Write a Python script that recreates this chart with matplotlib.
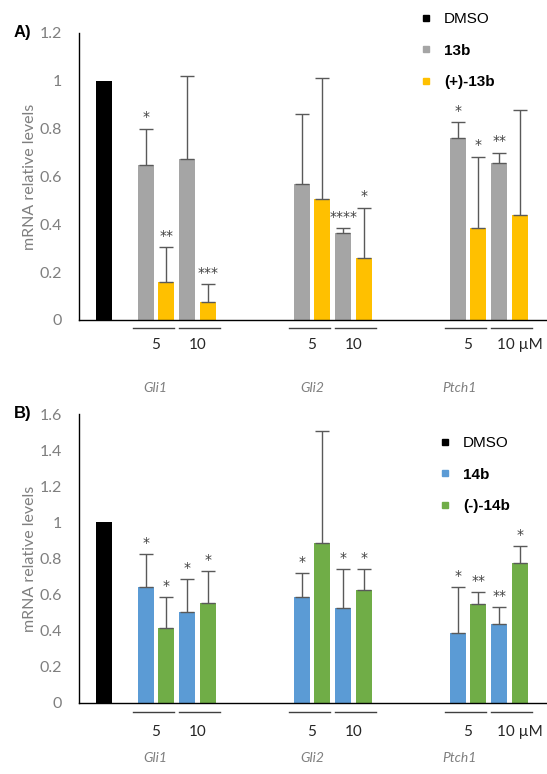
import matplotlib
matplotlib.use("Agg")
import matplotlib.pyplot as plt
from matplotlib.lines import Line2D
from matplotlib.transforms import blended_transform_factory

plt.rcParams['font.family'] = ['Lato', 'DejaVu Sans']

genes = ['Gli1', 'Gli2', 'Ptch1']
doses = ['5', '10']

# order of values: Gli1 5, Gli1 10, Gli2 5, Gli2 10, Ptch1 5, Ptch1 10
dmso_a = 1.0
v_13b = [0.65, 0.674, 0.57, 0.364, 0.76, 0.658]
e_13b = [0.15, 0.345, 0.29, 0.02, 0.067, 0.042]
s_13b = ['*', '', '', '****', '*', '**']
v_p13b = [0.16, 0.075, 0.506, 0.26, 0.385, 0.44]
e_p13b = [0.145, 0.075, 0.504, 0.21, 0.298, 0.439]
s_p13b = ['**', '***', '', '*', '*', '']

dmso_b = 1.0
v_14b = [0.64, 0.504, 0.587, 0.526, 0.388, 0.437]
e_14b = [0.185, 0.183, 0.133, 0.216, 0.254, 0.095]
s_14b = ['*', '*', '*', '*', '*', '**']
v_m14b = [0.415, 0.553, 0.886, 0.626, 0.548, 0.775]
e_m14b = [0.172, 0.178, 0.62, 0.116, 0.067, 0.094]
s_m14b = ['*', '*', '', '*', '**', '*']

GROUP_STEP = 7.5
W = 0.77
ERR = '#595959'
LINE_START = [-0.58, 1.63]
LINE_LEN = 1.93


def draw_panel(ax, dmso, vals1, errs1, stars1, vals2, errs2, stars2,
               c1, c2, labels, ymax, yticks, tag, tag_y, legend_xy,
               line_y, dose_y, gene_y):
    ax.bar(-2, dmso, W, color='black')
    x1, x2 = [], []
    for g in range(len(genes)):
        for d in range(len(doses)):
            x1.append(g * GROUP_STEP + d * 2)
            x2.append(g * GROUP_STEP + d * 2 + 1)
    ekw = dict(ecolor=ERR, elinewidth=1, capsize=5, capthick=1)
    ax.bar(x1, vals1, W, color=c1, yerr=[[0] * len(errs1), errs1], error_kw=ekw)
    ax.bar(x2, vals2, W, color=c2, yerr=[[0] * len(errs2), errs2], error_kw=ekw)
    for xs, vs, es, ss in [(x1, vals1, errs1, stars1), (x2, vals2, errs2, stars2)]:
        for x, v, e, s in zip(xs, vs, es, ss):
            if s:
                ax.annotate(s, (x, v + e), xytext=(0, 3), textcoords='offset points',
                            ha='center', va='bottom', fontsize=10, color='#404040',
                            family='DejaVu Sans')

    ax.set_xlim(-3.2, 19.3)
    ax.set_ylim(0, ymax)
    ax.set_yticks(yticks)
    ax.set_yticklabels([f'{t:g}' for t in yticks])
    ax.set_xticks([])
    ax.tick_params(axis='y', length=0, pad=12, labelsize=11.5, labelcolor='#7f7f7f')
    for s in ['top', 'right']:
        ax.spines[s].set_visible(False)
    for s in ['left', 'bottom']:
        ax.spines[s].set_color('black')
        ax.spines[s].set_linewidth(1)
    ax.set_ylabel('mRNA relative levels', color='#7f7f7f', fontsize=11.5)
    ax.yaxis.set_label_coords(-0.09, 0.5)

    tr = blended_transform_factory(ax.transData, ax.transAxes)
    for g, gene in enumerate(genes):
        base = g * GROUP_STEP
        for d, dose in enumerate(doses):
            x0 = base + LINE_START[d]
            ax.plot([x0, x0 + LINE_LEN], [line_y, line_y],
                    color='#404040', lw=1, transform=tr, clip_on=False)
            if g == len(genes) - 1 and d == len(doses) - 1:
                ax.text(base + 2 * d - 0.1, dose_y, dose + ' µM', transform=tr,
                        ha='left', va='center', fontsize=11, color='#262626')
            else:
                ax.text(base + 2 * d + 0.5, dose_y, dose, transform=tr,
                        ha='center', va='center', fontsize=11, color='#262626')
        gx = [0.45, 0.5, 0.1][g]
        ax.text(base + gx, gene_y, gene, transform=tr, ha='center', va='center',
                fontsize=10, style='italic', color='#7f7f7f')

    fig.text(14 / 547, tag_y, tag, fontsize=12, fontweight='bold',
             family='Liberation Sans', va='center', ha='left')

    handles = [Line2D([], [], ls='', marker='s', markersize=5, color=c)
               for c in ['black', c1, c2]]
    leg = ax.legend(handles, labels, loc='upper left', bbox_to_anchor=legend_xy,
                    bbox_transform=fig.transFigure, frameon=False, handlelength=1,
                    handletextpad=0.7, labelspacing=1.15, borderpad=0,
                    borderaxespad=0, prop={'family': 'Liberation Sans', 'size': 11})
    for t in leg.get_texts()[1:]:
        t.set_fontweight('bold')


fig = plt.figure(figsize=(5.47, 7.74), dpi=100)
ax1 = fig.add_axes([79 / 547, 1 - 320 / 774, 468 / 547, 287 / 774])
ax2 = fig.add_axes([79 / 547, 1 - 703 / 774, 468 / 547, 289 / 774])

draw_panel(ax1, dmso_a, v_13b, e_13b, s_13b, v_p13b, e_p13b, s_p13b,
           '#a5a5a5', '#ffc000', ['DMSO', '13b', '(+)-13b'],
           1.2, [0, 0.2, 0.4, 0.6, 0.8, 1, 1.2], 'A)', 1 - 33 / 774,
           (418 / 547, 1 - 12 / 774), -0.028, -0.087, -0.237)
draw_panel(ax2, dmso_b, v_14b, e_14b, s_14b, v_m14b, e_m14b, s_m14b,
           '#5b9bd5', '#70ad47', ['DMSO', '14b', '(-)-14b'],
           1.6, [0, 0.2, 0.4, 0.6, 0.8, 1, 1.2, 1.4, 1.6], 'B)', 1 - 414 / 774,
           (437 / 547, 1 - 436 / 774), -0.031, -0.10, -0.19)

fig.savefig('out.png', dpi=100)
